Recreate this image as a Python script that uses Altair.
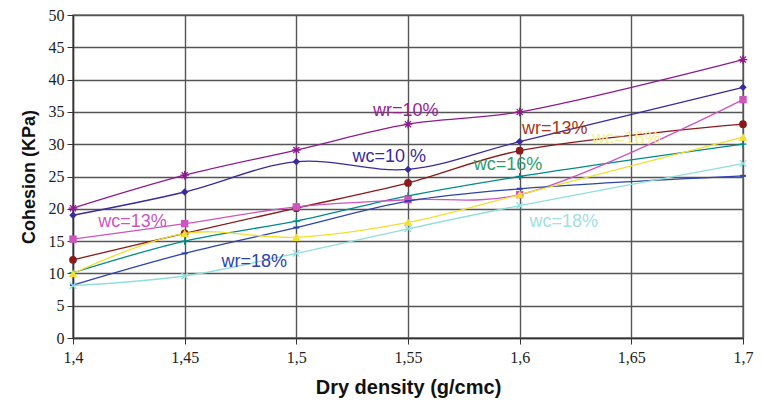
import altair as alt
import pandas as pd

x_vals = [1.40, 1.45, 1.50, 1.55, 1.60, 1.70]

series_names = ["wr=10%", "wc=10%", "wr=13%", "wc=16% teal", "wc=13%", "wr=18%", "wc=16% yellow", "wc=18%"]
wr10 = [20.1, 25.2, 29.1, 33.1, 35.0, 43.1]
wc10 = [19.0, 22.6, 27.3, 26.1, 30.4, 38.8]
wr13 = [12.1, 16.2, 20.1, 24.0, 29.0, 33.1]
wc16_teal = [10.1, 15.0, 18.1, 22.0, 25.0, 30.0]
wc13 = [15.3, 17.7, 20.3, 21.4, 22.2, 36.9]
wr18 = [8.2, 13.1, 17.1, 21.2, 23.1, 25.1]
wc16_yellow = [10.0, 16.2, 15.6, 17.9, 22.2, 31.1]
wc18 = [8.1, 9.6, 13.1, 16.9, 20.5, 27.0]
series_values = [wr10, wc10, wr13, wc16_teal, wc13, wr18, wc16_yellow, wc18]

line_colors = ["#8E1A8E", "#3A2A9C", "#8B1A1A", "#008A8A", "#CC55C0", "#2E44AA", "#F0E030", "#8FDEDE"]

asterisk = "M-1,0L1,0M0,-1L0,1M-0.7,-0.7L0.7,0.7M-0.7,0.7L0.7,-0.7"
xmark = "M-0.8,-0.8L0.8,0.8M-0.8,0.8L0.8,-0.8"
plus = "M-1,0L1,0M0,-1L0,1"
dash = "M-1,-0.35L1,-0.35L1,0.35L-1,0.35Z"
shapes = [asterisk, "diamond", "circle", plus, "square", dash, "triangle-up", xmark]
filled = [False, True, True, False, True, True, True, False]
sizes = [75, 55, 60, 50, 55, 35, 75, 65]

label_texts = ["wr=10%", "wc=10 %", "wr=13%", "wc=16%", "wc=16%", "wc=13%", "wr=18%", "wc=18%"]
label_x = [1.549, 1.5416, 1.6157, 1.5948, 1.6477, 1.4266, 1.4812, 1.6197]
label_y = [35.2, 28.0, 32.3, 26.8, 30.8, 17.9, 11.7, 17.9]
label_colors = ["#9A1E9A", "#3A2A9C", "#A8361A", "#2E9C6E", "#F5EE90", "#CC55C0", "#2E44AA", "#A0E0E0"]

rows = []
for name, vals in zip(series_names, series_values):
    for xv, yv in zip(x_vals, vals):
        rows.append({"series": name, "x": xv, "y": yv})
df = pd.DataFrame(rows)

x_scale = alt.Scale(domain=[1.4, 1.7], nice=False, zero=False)
y_scale = alt.Scale(domain=[0, 50], nice=False)

x_axis = alt.Axis(
    values=[1.4, 1.45, 1.5, 1.55, 1.6, 1.65, 1.7],
    labelExpr="replace(format(datum.value, '.2~f'), '.', ',')",
    title="Dry density (g/cmc)",
    labelOverlap=False,
    labelFlush=False,
)
y_axis = alt.Axis(values=list(range(0, 51, 5)), title="Cohesion (KPa)", labelOverlap=False)

X = alt.X("x:Q", scale=x_scale, axis=x_axis)
Y = alt.Y("y:Q", scale=y_scale, axis=y_axis)

layers = []
for i, name in enumerate(series_names):
    sub = alt.Data(values=df[df.series == name].to_dict("records"))
    base = alt.Chart(sub)
    line = base.mark_line(color=line_colors[i], strokeWidth=1.3, interpolate="catmull-rom").encode(x=X, y=Y)
    pts = base.mark_point(
        shape=shapes[i], filled=filled[i], color=line_colors[i], size=sizes[i], opacity=1,
        strokeWidth=1.3,
    ).encode(x=X, y=Y)
    layers += [line, pts]

lab_df = pd.DataFrame({"text": label_texts, "x": label_x, "y": label_y, "color": label_colors})
labels = alt.Chart(lab_df).mark_text(font="Liberation Sans", fontSize=18, align="center", baseline="middle").encode(
    x=X, y=Y, text="text:N", color=alt.Color("color:N", scale=None)
)
layers.append(labels)

chart = alt.layer(*layers).properties(
    width=670, height=323,
    autosize=alt.AutoSizeParams(type="none"),
    padding={"left": 65, "top": 7, "right": 11, "bottom": 62},
    background="white",
).configure_axis(
    labelFont="Liberation Sans Narrow",
    labelFontSize=16,
    labelColor="#222",
    titleFont="Liberation Sans",
    titleFontWeight="bold",
    titleColor="#111",
    gridColor="#555",
    gridWidth=1.4,
    gridOpacity=1,
    domainColor="#333",
    domainWidth=1.4,
    tickColor="#333",
    tickSize=6,
).configure_axisX(
    labelPadding=5, titlePadding=12, titleFontSize=20,
).configure_axisY(
    labelPadding=3, titlePadding=10, titleFontSize=18,
).configure_view(stroke="#777", strokeWidth=1.5)

chart.save("out.html", embed_options={"renderer": "svg", "actions": False})
